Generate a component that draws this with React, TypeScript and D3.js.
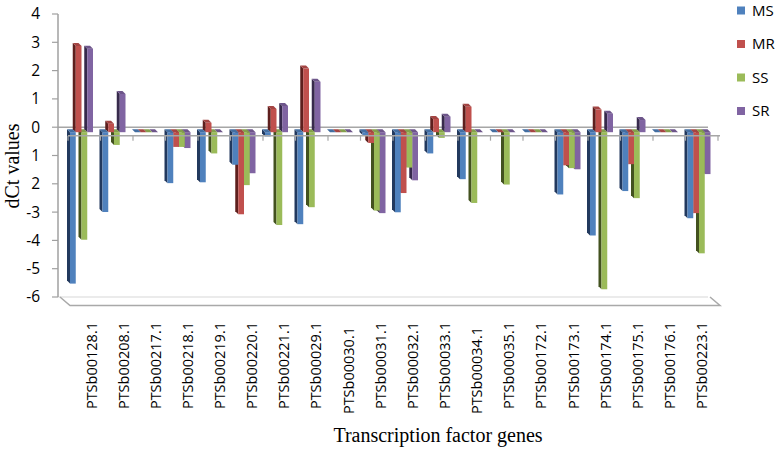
import React from 'react'
import * as d3 from 'd3'

const genes = [
  'PTSb00128.1', 'PTSb00208.1', 'PTSb00217.1', 'PTSb00218.1', 'PTSb00219.1',
  'PTSb00220.1', 'PTSb00221.1', 'PTSb00029.1', 'PTSb00030.1', 'PTSb00031.1',
  'PTSb00032.1', 'PTSb00033.1', 'PTSb00034.1', 'PTSb00035.1', 'PTSb00172.1',
  'PTSb00173.1', 'PTSb00174.1', 'PTSb00175.1', 'PTSb00176.1', 'PTSb00223.1',
]
const seriesNames = ['MS', 'MR', 'SS', 'SR']
const msValues = [-5.35, -2.82, 0, -1.8, -1.77, -1.15, -0.15, -3.25, 0, -0.1, -2.83, -0.75, -1.66, 0, 0, -2.2, -3.65, -2.08, 0, -3.04]
const mrValues = [3.05, 0.3, 0, -0.52, 0.33, -2.9, 0.82, 2.25, 0, -0.38, -2.15, 0.47, 0.9, 0, 0, -1.17, 0.8, -1.13, 0, -2.86]
const ssValues = [-3.8, -0.45, 0, -0.52, -0.75, -1.87, -3.28, -2.65, 0, -2.77, -1.25, -0.2, -2.5, -1.85, 0, -1.27, -5.55, -2.33, 0, -4.28]
const srValues = [2.95, 1.35, 0, -0.56, 0, -1.45, 0.93, 1.78, 0, -2.86, -1.7, 0.55, 0, 0, 0, -1.31, 0.65, 0.43, 0, -1.48]
const seriesValues = [msValues, mrValues, ssValues, srValues]

const frontColors = ['#4F81BD', '#C0504D', '#9BBB59', '#8064A2']
const sideColors = ['#22395e', '#5e1f1d', '#43521f', '#372a4c']

const yTickValues = [4, 3, 2, 1, 0, -1, -2, -3, -4, -5, -6]
const yTickLabels = ['4', '3', '2', '1', '0', '1', '2', '-3', '-4', '-5', '-6']
const loweredLabels = ['PTSb00030.1', 'PTSb00034.1']

const width = 780
const height = 450
const sans = '"Open Sans", "DejaVu Sans", sans-serif'
const serif = '"Liberation Serif", "DejaVu Serif", serif'

// oblique 3d: back wall sits up-left of the front edge
const wallDx = 10
const wallDy = 8.5
const barShiftY = 5 // bar fronts sit between wall and front edge
const barDx = 3
const barDy = 3

export default function App() {
  const y = d3.scaleLinear().domain([-6, 4]).range([297, 14])
  const yb = (v: number) => y(v) + barShiftY
  const x = d3.scaleBand().domain(genes).range([68, 718])
  const xs = d3.scaleBand().domain(seriesNames).range([2, 25])
  const labelX = d3.scalePoint().domain(genes).range([91.5, 702])

  const axisLeft = x.range()[0] - wallDx
  const axisRight = x.range()[1] - wallDx
  const zeroBack = y(0)
  const zeroFront = zeroBack + wallDy
  const floorBack = y(-6)
  const floorFront = floorBack + wallDy

  const bars: React.ReactNode[] = []
  for (let gi = genes.length - 1; gi >= 0; gi--) {
    for (let si = seriesNames.length - 1; si >= 0; si--) {
      const v = seriesValues[si][gi]
      const x0 = (x(genes[gi]) as number) + (xs(seriesNames[si]) as number)
      const w = xs.bandwidth()
      const x1 = x0 + w
      const yz = yb(0)
      const yv = yb(v)
      const top = Math.min(yz, yv)
      const bot = Math.max(yz, yv)
      const capY = v >= 0 ? yv : yz
      const topColor = d3.color(frontColors[si])!.darker(0.45).formatHex()
      bars.push(
        <g key={genes[gi] + seriesNames[si]}>
          {bot - top > 0 && (
            <polygon
              points={`${x0},${top} ${x0 - barDx},${top - barDy} ${x0 - barDx},${bot - barDy} ${x0},${bot}`}
              fill={sideColors[si]}
            />
          )}
          {bot - top > 0 && <rect x={x0} y={top} width={w} height={bot - top} fill={frontColors[si]} />}
          <polygon
            points={`${x0},${capY} ${x1},${capY} ${x1 - barDx},${capY - barDy} ${x0 - barDx},${capY - barDy}`}
            fill={topColor}
          />
        </g>
      )
    }
  }

  return (
    <div>
      <style>{`body { margin: 0; }`}</style>
      <svg width={width} height={height} style={{ display: 'block', background: '#fff' }}>
        {/* floor at -6 */}
        <line x1={axisLeft} x2={axisRight} y1={floorBack} y2={floorBack} stroke="#e4e4e4" strokeWidth={1.5} />
        <polyline
          points={`${axisLeft + 2},${floorBack} ${axisLeft + 12},${floorFront} ${x.range()[1] + 2},${floorFront} ${axisRight + 2},${floorBack}`}
          fill="none"
          stroke="#a9a9a9"
          strokeWidth={1.5}
        />
        {/* back wall zero line */}
        <line x1={axisLeft} x2={axisRight} y1={zeroBack} y2={zeroBack} stroke="#a6a6a6" strokeWidth={1.5} />

        {/* value axis */}
        <line x1={axisLeft} x2={axisLeft} y1={y(4)} y2={y(-6)} stroke="#a0a0a0" strokeWidth={1.5} />
        {yTickValues.map((t, i) => (
          <g key={t}>
            <line x1={axisLeft - 6} x2={axisLeft} y1={y(t)} y2={y(t)} stroke="#a0a0a0" strokeWidth={1.2} />
            <text x={40} y={y(t)} dy="0.35em" textAnchor="end" fontFamily={sans} fontSize={15.5} fill="#000">
              {yTickLabels[i]}
            </text>
          </g>
        ))}

        {bars}

        {/* category axis at zero */}
        <line x1={x.range()[0]} x2={x.range()[1] + 2} y1={zeroFront} y2={zeroFront} stroke="#a6a6a6" strokeWidth={1.5} />
        {[...genes.map((g) => x(g) as number), x.range()[1]].map((tx, i) => (
          <line key={i} x1={tx} x2={tx} y1={zeroFront} y2={zeroFront + 5} stroke="#a6a6a6" strokeWidth={1.2} />
        ))}

        {genes.map((g) => (
          <text
            key={g}
            transform={`translate(${labelX(g)},${loweredLabels.includes(g) ? 327 : 322}) rotate(-90)`}
            dy="0.35em"
            textAnchor="end"
            fontFamily={sans}
            fontSize={14.5}
            fill="#000"
          >
            {g}
          </text>
        ))}

        <text x={438} y={442} textAnchor="middle" fontFamily={serif} fontSize={20} fill="#000">
          Transcription factor genes
        </text>
        <text transform="translate(19,166) rotate(-90)" textAnchor="middle" fontFamily={serif} fontSize={20} fill="#000">
          dCt values
        </text>

        {/* legend */}
        {seriesNames.map((s, i) => (
          <g key={s} transform={`translate(737,${10.5 + i * 33.5})`}>
            <rect x={0} y={-4} width={8} height={8} fill={frontColors[i]} />
            <text x={15} y={0} dy="0.35em" fontFamily={sans} fontSize={15} fill="#000">
              {s}
            </text>
          </g>
        ))}
      </svg>
    </div>
  )
}
